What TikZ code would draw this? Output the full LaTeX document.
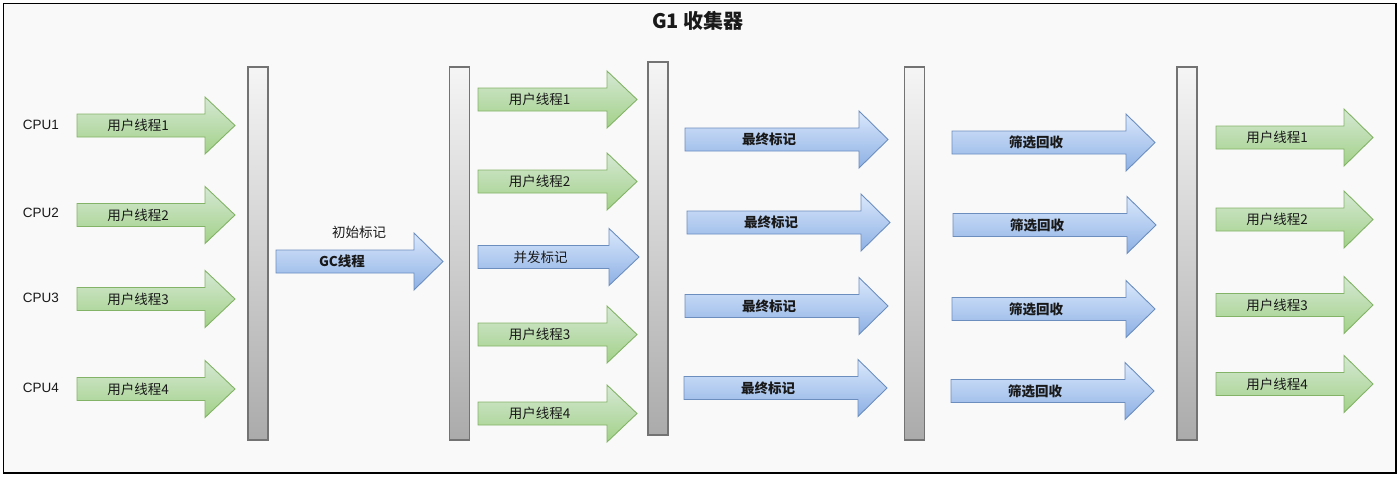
\documentclass[tikz,border=0pt]{standalone}
\usepackage{fontspec}
\usepackage{xcolor}
\usepackage{tikz}
\setmainfont{Liberation Sans}
\newfontfamily\cjk{Noto Sans CJK SC}

\definecolor{gline}{HTML}{82B366}
\definecolor{gtop}{HTML}{D5E8D4}
\definecolor{gbot}{HTML}{A2D188}
\definecolor{bline}{HTML}{6C8EBF}
\definecolor{btop}{HTML}{DAE8FC}
\definecolor{bbot}{HTML}{8DB0E4}

\tikzset{
  garrow/.style={draw=gline, line width=0.9pt, top color=gtop, bottom color=gbot},
  barrow/.style={draw=bline, line width=0.9pt, top color=btop, bottom color=bbot},
  txt/.style={inner sep=0pt, text=black!90, font=\cjk\fontsize{13.5}{16}\selectfont},
  cpu/.style={inner sep=0pt, text=black!90, font=\fontsize{13.5}{16}\selectfont},
  pausebar/.style={draw=black!55, line width=1.3pt, top color=black!4, bottom color=black!33,
    minimum width=20, inner sep=0pt},
}

% #1 名字, #2 样式, #3 尾部x, #4 箭头根部x, #5 箭尖x, #6 中心y, #7 文字
\newcommand{\thread}[7]{%
  \path[#2] (#3,#6-11.5) -- (#4,#6-11.5) -- (#4,#6-28.5) -- (#5,#6)
    -- (#4,#6+28.5) -- (#4,#6+11.5) -- (#3,#6+11.5) -- cycle;
  \node[txt] (#1) at ({(#3+#4)/2-3},#6) {#7};}

\begin{document}
\begin{tikzpicture}[x=1pt, y=-1pt]
\useasboundingbox (0,0) rectangle (1400,477);
%外框
\draw[line width=1.5pt, fill=black!2.5] (3.5,3.5) rectangle (1396,473);
%标题
\node[txt, font=\cjk\bfseries\fontsize{20}{24}\selectfont] (title) at (698,21) {G1 收集器};

%停顿分隔条
\node[pausebar, minimum height=373] (bar1) at (258,253.5) {};
\node[pausebar, minimum height=373] (bar2) at (459.5,253.5) {};
\node[pausebar, minimum height=373] (bar3) at (658,248.5) {};
\node[pausebar, minimum height=373] (bar4) at (914.5,253.5) {};
\node[pausebar, minimum height=373] (bar5) at (1187,253.5) {};

%CPU
\node[cpu] (cpu1) at (41,125) {CPU1};
\node[cpu] (cpu2) at (41,213) {CPU2};
\node[cpu] (cpu3) at (41,298) {CPU3};
\node[cpu] (cpu4) at (41,388) {CPU4};

%第一段 用户线程
\thread{ua1}{garrow}{77}{205}{235}{125.5}{用户线程1}
\thread{ua2}{garrow}{77}{205}{235}{215}{用户线程2}
\thread{ua3}{garrow}{77}{205}{235}{299}{用户线程3}
\thread{ua4}{garrow}{77}{205}{235}{389}{用户线程4}

%初始标记
\thread{gc}{barrow}{276}{414}{443}{261.5}{\bfseries GC线程}
\node[txt] (init) at (359,232) {初始标记};

%并发标记
\thread{ub1}{garrow}{478}{607}{637}{99.5}{用户线程1}
\thread{ub2}{garrow}{478}{607}{637}{181.5}{用户线程2}
\thread{cmark}{barrow}{478}{609}{639}{257}{并发标记}
\thread{ub3}{garrow}{478}{607}{637}{334.5}{用户线程3}
\thread{ub4}{garrow}{478}{607}{637}{413.5}{用户线程4}

%最终标记
\thread{fm1}{barrow}{685}{859}{888}{139.5}{\bfseries 最终标记}
\thread{fm2}{barrow}{687}{861}{890}{222.5}{\bfseries 最终标记}
\thread{fm3}{barrow}{685}{859}{888}{306}{\bfseries 最终标记}
\thread{fm4}{barrow}{684}{858}{887}{388}{\bfseries 最终标记}

%筛选回收
\thread{sc1}{barrow}{952}{1126}{1155}{142.5}{\bfseries 筛选回收}
\thread{sc2}{barrow}{953}{1127}{1156}{225}{\bfseries 筛选回收}
\thread{sc3}{barrow}{952}{1126}{1155}{309}{\bfseries 筛选回收}
\thread{sc4}{barrow}{951}{1125}{1154}{391}{\bfseries 筛选回收}

%恢复用户线程
\thread{uc1}{garrow}{1216}{1344}{1373}{137.5}{用户线程1}
\thread{uc2}{garrow}{1216}{1344}{1373}{219.5}{用户线程2}
\thread{uc3}{garrow}{1216}{1344}{1373}{305}{用户线程3}
\thread{uc4}{garrow}{1216}{1344}{1373}{384}{用户线程4}
\end{tikzpicture}
\end{document}
